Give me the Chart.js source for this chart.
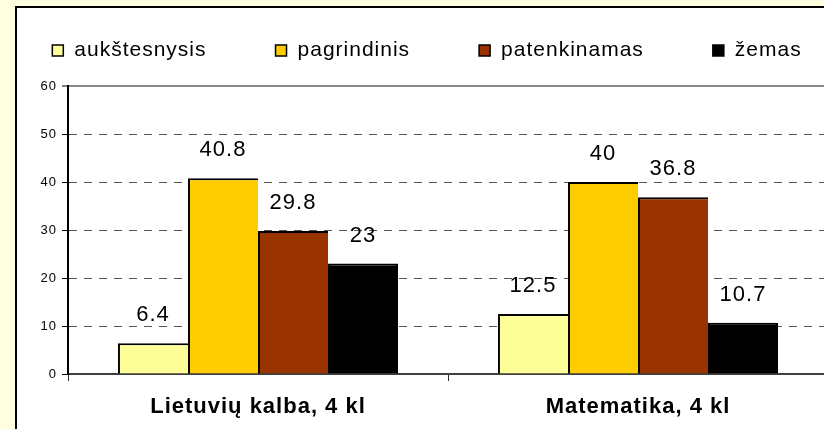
<!DOCTYPE html>
<html lang="lt">
<head>
<meta charset="UTF-8">
<title>Pasiekimų lygiai</title>
<style>
  html, body { margin: 0; padding: 0; overflow: hidden; }
  body {
    width: 824px;
    height: 429px;
    position: relative;
    background: #ffffe0;
    font-family: Arial, "Liberation Sans", sans-serif;
  }
  .frame {
    position: absolute;
    left: 15px;
    top: 6px;
    width: 900px;
    height: 500px;
    background: #fff;
    border-left: 2px solid #000;
    border-top: 2px solid #000;
  }
  .chart-box {
    position: absolute;
    left: 0;
    top: 0;
  }
</style>
<script src="https://cdn.jsdelivr.net/npm/chart.js"></script>
</head>
<body>
<div class="frame"></div>
<div class="chart-box">
  <canvas id="levelsChart" width="840" height="429"></canvas>
</div>

<script>
// data
const categories = ['Lietuvių kalba, 4 kl', 'Matematika, 4 kl'];
const seriesNames = ['aukštesnysis', 'pagrindinis', 'patenkinamas', 'žemas'];
const aukstesnysis = [6.4, 12.5];
const pagrindinis = [40.8, 40];
const patenkinamas = [29.8, 36.8];
const zemas = [23, 10.7];
const yTicks = [0, 10, 20, 30, 40, 50, 60];

const colors = ['#ffff99', '#ffcc00', '#993300', '#000000'];
const seriesValues = [aukstesnysis, pagrindinis, patenkinamas, zemas];

// Excel-like wide letter spacing on all text
const spacing = {
  id: 'spacing',
  beforeDraw(chart) {
    chart.ctx.letterSpacing = '1px';
  }
};

// numbers above the bars
const valueLabels = {
  id: 'valueLabels',
  afterDatasetsDraw(chart) {
    const ctx = chart.ctx;
    ctx.save();
    ctx.font = '22px Arial';
    ctx.fillStyle = '#000';
    ctx.textAlign = 'center';
    ctx.textBaseline = 'alphabetic';
    chart.data.datasets.forEach((ds, i) => {
      chart.getDatasetMeta(i).data.forEach((bar, j) => {
        ctx.fillText(String(ds.data[j]), bar.x, bar.y - 22);
      });
    });
    ctx.restore();
  }
};

// legend in one row like the original, wide gaps between items
const topLegend = {
  id: 'topLegend',
  afterDraw(chart) {
    const ctx = chart.ctx;
    const box = 11, toText = 22, gap = 69;
    ctx.save();
    ctx.font = '21px Arial';
    const widths = seriesNames.map(n => ctx.measureText(n).width);
    let total = 0;
    widths.forEach((w, i) => { total += toText + w + (i < widths.length - 1 ? gap : 0); });
    let x = 427 - total / 2;
    const boxTop = 45, baseline = 56;
    seriesNames.forEach((name, i) => {
      ctx.fillStyle = colors[i];
      ctx.fillRect(x, boxTop, box, box);
      ctx.strokeStyle = '#000';
      ctx.lineWidth = 1.5;
      ctx.strokeRect(x, boxTop, box, box);
      ctx.fillStyle = '#000';
      ctx.textAlign = 'left';
      ctx.textBaseline = 'alphabetic';
      ctx.fillText(name, x + toText, baseline);
      x += toText + widths[i] + gap;
    });
    ctx.restore();
  }
};

const inner = { top: 2, left: 2, right: 0, bottom: 0 };
const last = { top: 2, left: 2, right: 2, bottom: 0 };

const ctx = document.getElementById('levelsChart').getContext('2d');
new Chart(ctx, {
  type: 'bar',
  data: {
    labels: categories,
    datasets: seriesNames.map((name, i) => ({
      label: name,
      data: seriesValues[i],
      backgroundColor: colors[i],
      borderColor: '#000',
      borderWidth: i === seriesNames.length - 1 ? last : inner,
      borderSkipped: false,
      inflateAmount: 0,
      categoryPercentage: 0.737,
      barPercentage: 1
    }))
  },
  options: {
    responsive: false,
    animation: false,
    devicePixelRatio: 1,
    layout: { padding: { top: 86, right: 12, left: 0, bottom: 0 } },
    plugins: {
      legend: { display: false },
      tooltip: { enabled: false }
    },
    scales: {
      x: {
        afterFit(scale) { scale.height = 55; },
        grid: {
          drawOnChartArea: false,
          tickLength: 7,
          tickColor: '#333',
          tickWidth: 1
        },
        border: { color: '#404040', width: 2 },
        ticks: {
          color: '#000',
          padding: 13,
          font: { family: 'Arial', size: 22, weight: 'bold' }
        }
      },
      y: {
        min: 0,
        max: 60,
        afterFit(scale) { scale.width = 68; },
        afterBuildTicks(scale) { scale.ticks = yTicks.map(v => ({ value: v })); },
        grid: {
          color(c) {
            if (!c.tick) return '#555';
            if (c.tick.value === 60) return '#888';
            if (c.tick.value === 0) return 'rgba(0,0,0,0)';
            return '#555';
          },
          lineWidth(c) { return c.tick && c.tick.value === 60 ? 2 : 1; },
          tickLength: 6,
          tickColor: '#000',
          tickWidth: 1,
          tickBorderDash: []
        },
        border: {
          color: '#000',
          width: 2,
          dash(c) {
            return c.tick && c.tick.value > 0 && c.tick.value < 60 ? [8, 7] : [];
          }
        },
        ticks: {
          color: '#000',
          padding: 5,
          font: { family: 'Arial', size: 13 }
        }
      }
    }
  },
  plugins: [spacing, valueLabels, topLegend]
});
</script>
</body>
</html>
